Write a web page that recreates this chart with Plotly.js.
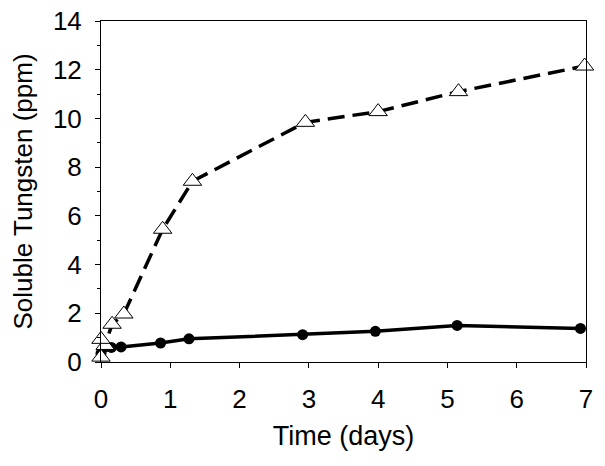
<!DOCTYPE html>
<html>
<head>
<meta charset="utf-8">
<script src="https://cdn.plot.ly/plotly-3.0.1.min.js"></script>
<style>html,body{margin:0;padding:0;background:#fff}#chart{width:605px;height:466px}</style>
</head>
<body>
<div id="chart"></div>
<script>
// Triangles (dashed series)
const triX = [0, 0.06, 0.16, 0.33, 0.89, 1.32, 2.95, 4.0, 5.16, 6.98];
const triY = [0.2, 0.68, 1.55, 1.97, 5.45, 7.42, 9.84, 10.28, 11.1, 12.15];
// Extra replicate triangle not on the line
const triExtraX = [0];
const triExtraY = [0.93];
// Circles (solid series)
const cirX = [0, 0.15, 0.29, 0.86, 1.27, 2.91, 3.96, 5.14, 6.92];
const cirY = [0.35, 0.6, 0.62, 0.78, 0.95, 1.12, 1.26, 1.5, 1.38];

const xTicks = [0, 1, 2, 3, 4, 5, 6, 7];
const yTicks = [0, 2, 4, 6, 8, 10, 12, 14];

const FONT = "Liberation Sans, Arial, Helvetica, sans-serif";

const triMarker = {symbol: 'triangle-up', size: 16, color: '#fff', line: {color: '#000', width: 1}};

const traces = [
  {
    x: cirX, y: cirY, type: 'scatter', mode: 'lines+markers',
    line: {color: '#000', width: 3.5},
    marker: {symbol: 'circle', size: 11, color: '#000'},
    cliponaxis: false, showlegend: false
  },
  {
    x: triX, y: triY, type: 'scatter', mode: 'lines+markers',
    line: {color: '#000', width: 3.5, dash: '17px,8px'},
    marker: triMarker,
    cliponaxis: false, showlegend: false
  },
  {
    x: triExtraX, y: triExtraY, type: 'scatter', mode: 'markers',
    marker: triMarker,
    cliponaxis: false, showlegend: false
  }
];

const layout = {
  width: 605, height: 466,
  margin: {l: 101, r: 19, t: 21, b: 104},
  paper_bgcolor: '#fff', plot_bgcolor: '#fff',
  font: {family: FONT, color: '#000', size: 26},
  xaxis: {
    range: [0, 7],
    tickvals: xTicks, ticktext: xTicks.map(String),
    ticks: 'outside', ticklen: 5, tickwidth: 1, tickcolor: '#000',
    showline: true, linecolor: '#000', linewidth: 1, mirror: true,
    showgrid: false, zeroline: false,
    tickfont: {family: FONT, size: 26},
    ticklabelstandoff: 9,
    title: {text: 'Time (days)', font: {family: FONT, size: 27}, standoff: 12}
  },
  yaxis: {
    range: [0, 14],
    tickvals: yTicks, ticktext: yTicks.map(String),
    ticks: 'outside', ticklen: 5, tickwidth: 1, tickcolor: '#000',
    minor: {dtick: 1, ticks: 'outside', ticklen: 3, tickwidth: 1, tickcolor: '#000', showgrid: false},
    showline: true, linecolor: '#000', linewidth: 1, mirror: true,
    showgrid: false, zeroline: false,
    tickfont: {family: FONT, size: 26},
    ticklabelstandoff: 8,
    title: {text: 'Soluble Tungsten (ppm)', font: {family: FONT, size: 26}, standoff: 12}
  }
};

Plotly.newPlot('chart', traces, layout, {displayModeBar: false, staticPlot: true});
</script>
</body>
</html>
